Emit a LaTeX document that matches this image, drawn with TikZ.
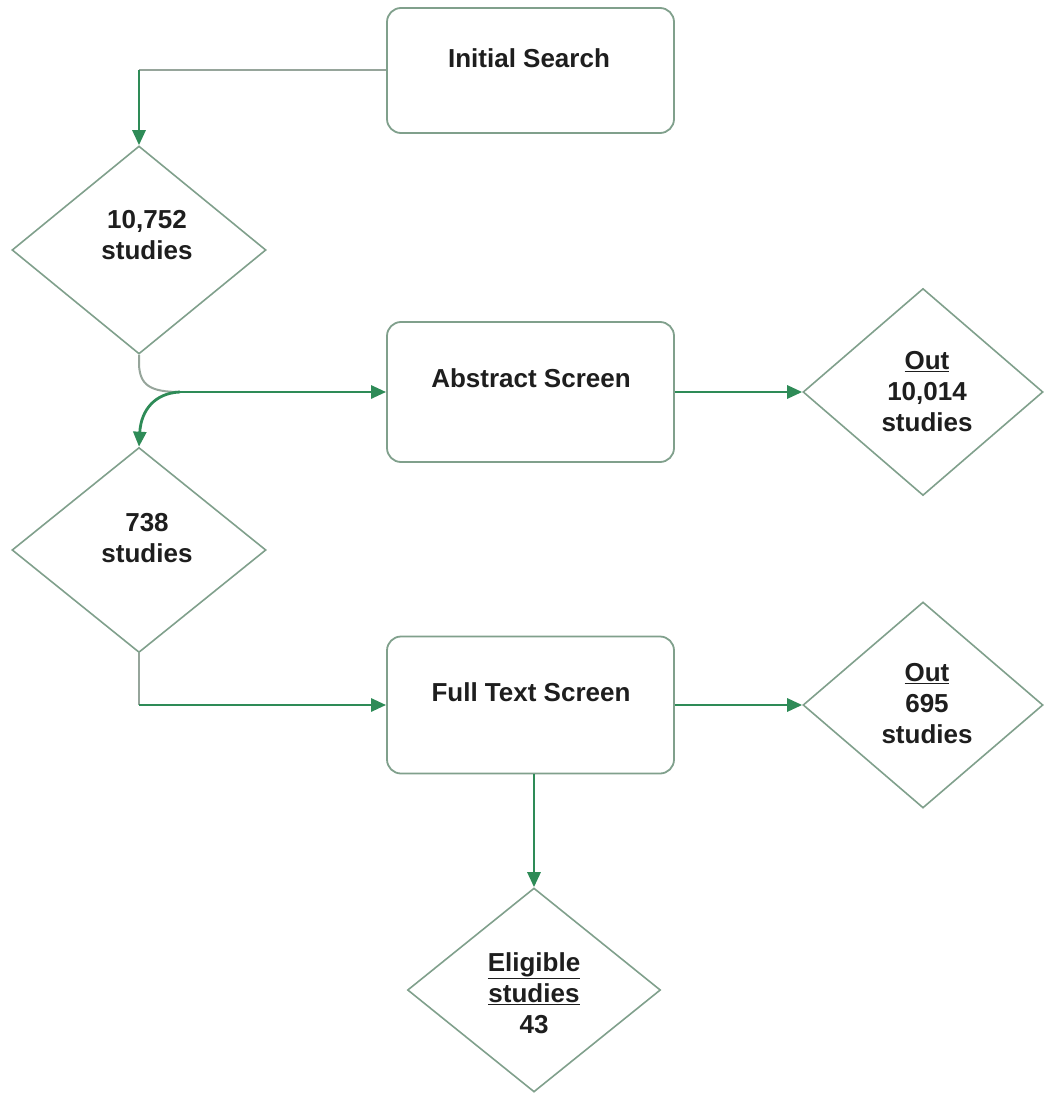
\documentclass[tikz,border=0pt]{standalone}
\usepackage{fontspec}
\setmainfont{Liberation Sans}
\usetikzlibrary{shapes.geometric,arrows.meta}
\definecolor{bordc}{RGB}{128,160,140}
\definecolor{linec}{RGB}{46,139,87}
\definecolor{greyc}{RGB}{150,165,155}
\definecolor{txtc}{RGB}{30,30,30}
\tikzset{
  x=1pt,y=-1pt,
  procbox/.style={draw=bordc,line width=1.8pt,rounded corners=14pt,fill=white,minimum width=287pt,inner sep=0pt},
  decbox/.style={draw=bordc,line width=1.6pt,diamond,fill=white,inner sep=0pt},
  lbl/.style={font=\fontsize{26}{31}\selectfont\bfseries,text=txtc,align=center,inner sep=0pt},
  conn/.style={draw=linec,line width=2.8pt,-{Triangle[length=15pt,width=13pt]}},
  greyline/.style={draw=greyc,line width=2pt},
}
\begin{document}
\begin{tikzpicture}
\useasboundingbox (0,0) rectangle (1045,1094);
% boxes
\node[procbox,minimum height=125pt] (s1) at (530.5,70.5) {};
\node[procbox,minimum height=140pt] (s2) at (530.5,392) {};
\node[procbox,minimum height=137pt] (s3) at (530.5,705) {};
% diamonds
\node[decbox,minimum width=254pt,minimum height=208pt] (d1) at (139,250) {};
\node[decbox,minimum width=254pt,minimum height=205pt] (d2) at (139,550) {};
\node[decbox,minimum width=240pt,minimum height=207pt] (o1) at (923,392) {};
\node[decbox,minimum width=240pt,minimum height=206pt] (o2) at (923,705) {};
\node[decbox,minimum width=253pt,minimum height=204pt] (e) at (534,990) {};
% texts
\node[lbl] (t1) at (529,58) {Initial Search};
\node[lbl] (t2) at (531,378) {Abstract Screen};
\node[lbl] (t3) at (531,692) {Full Text Screen};
\node[lbl] (t4) at (147,235) {10,752\\studies};
\node[lbl] (t5) at (147,538) {738\\studies};
\node[lbl] (t6) at (927,392) {\underline{Out}\\10,014\\studies};
\node[lbl] (t7) at (927,704) {\underline{Out}\\695\\studies};
\node[lbl] (t8) at (534,993) {\underline{Eligible}\\\underline{studies}\\43};
% connectors
\coordinate (c1) at (d1.north |- s1.west);
\draw[greyline] (s1.west) -- (c1);
\draw[conn] (c1) -- (d1.north);
\coordinate (j) at (180,392);
\draw[greyline] (d1.south) -- ++(0,10) .. controls (140,385) and (150,392) .. (j);
\draw[conn] (j) -- (s2.west);
\draw[conn] (j) .. controls (155,393) and (141,410) .. (d2.north);
\draw[conn] (s2.east) -- (o1.west);
\coordinate (c2) at (d2.south |- s3.west);
\draw[greyline] (d2.south) -- (c2);
\draw[conn] (c2) -- (s3.west);
\draw[conn] (s3.east) -- (o2.west);
\draw[conn] (e.north |- s3.south) -- (e.north);
\end{tikzpicture}
\end{document}
